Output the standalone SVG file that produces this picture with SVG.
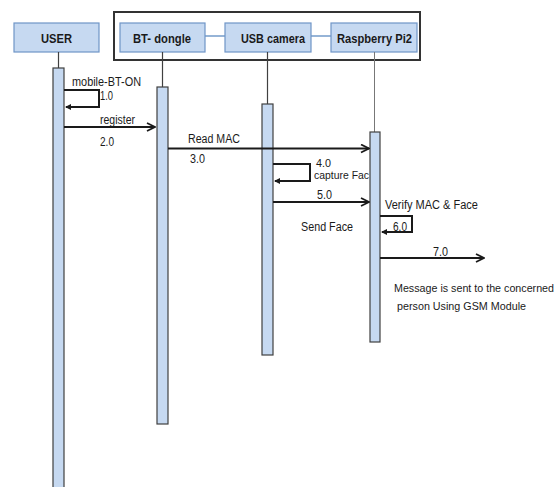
<svg xmlns="http://www.w3.org/2000/svg" width="560" height="487" viewBox="0 0 560 487">
<style>
.hdr{fill:#c6d9f1;stroke:#6f95c7;stroke-width:1.2}
.ht{font-family:"Liberation Sans",Arial,sans-serif;font-size:13px;font-weight:bold;fill:#1a1a1a}
.act{fill:#c6d9f1;stroke:#404040;stroke-width:1.2}
.life{stroke:#404040;stroke-width:1.2}
.msg{fill:none;stroke:#1a1a1a;stroke-width:2}
.lbl{font-family:"Liberation Sans",Arial,sans-serif;font-size:12px;fill:#1a1a1a}
.sm{font-size:11px}
</style>
<defs>
<marker id="open" viewBox="0 0 10 10" refX="9" refY="5" markerWidth="10" markerHeight="10" markerUnits="userSpaceOnUse" orient="auto">
<path d="M1,1 L9,5 L1,9" fill="none" stroke="#1a1a1a" stroke-width="1.8"/>
</marker>
<marker id="small" viewBox="0 0 6 6" refX="5" refY="3" markerWidth="6" markerHeight="6" markerUnits="userSpaceOnUse" orient="auto">
<path d="M0,0 L6,3 L0,6 Z" fill="#1a1a1a"/>
</marker>
</defs>
<rect x="114" y="12" width="306" height="48" fill="#fff" stroke="#333" stroke-width="2"/>
<g id="links">
<line x1="205" y1="36" x2="225" y2="36" stroke="#4f81bd" stroke-width="1.2"/>
<line x1="311" y1="36" x2="331" y2="36" stroke="#4f81bd" stroke-width="1.2"/>
</g>
<g id="user">
<rect class="hdr" x="14" y="23" width="85" height="29"/>
<text class="ht" x="56.5" y="43" text-anchor="middle" textLength="31" lengthAdjust="spacingAndGlyphs">USER</text>
<line class="life" x1="58.5" y1="52" x2="58.5" y2="68"/>
<rect class="act" x="53" y="68" width="11" height="425"/>
</g>
<g id="btdongle">
<rect class="hdr" x="120" y="23" width="85" height="29"/>
<text class="ht" x="162" y="43" text-anchor="middle" textLength="58" lengthAdjust="spacingAndGlyphs">BT- dongle</text>
<line class="life" x1="162.5" y1="52" x2="162.5" y2="87"/>
<rect class="act" x="157" y="87" width="11" height="337"/>
</g>
<g id="usbcamera">
<rect class="hdr" x="225" y="23" width="86" height="29"/>
<text class="ht" x="273" y="43" text-anchor="middle" textLength="64" lengthAdjust="spacingAndGlyphs">USB camera</text>
<line class="life" x1="267.5" y1="52" x2="267.5" y2="104"/>
<rect class="act" x="262" y="104" width="11" height="251"/>
</g>
<g id="raspberrypi2">
<rect class="hdr" x="331" y="23" width="86" height="29"/>
<text class="ht" x="374.5" y="43" text-anchor="middle" textLength="75" lengthAdjust="spacingAndGlyphs">Raspberry Pi2</text>
<line x1="374.5" y1="52" x2="374.5" y2="132" stroke="#777" stroke-width="1"/>
</g>
<g id="labels">
<text class="lbl" x="72" y="86" textLength="69" lengthAdjust="spacingAndGlyphs">mobile-BT-ON</text>
<text class="lbl" x="100" y="100" textLength="13" lengthAdjust="spacingAndGlyphs">1.0</text>
<text class="lbl" x="100" y="124" textLength="35" lengthAdjust="spacingAndGlyphs">register</text>
<text class="lbl" x="100" y="146" textLength="14" lengthAdjust="spacingAndGlyphs">2.0</text>
<text class="lbl" x="188" y="143" textLength="52" lengthAdjust="spacingAndGlyphs">Read MAC</text>
<text class="lbl" x="190" y="163" textLength="15" lengthAdjust="spacingAndGlyphs">3.0</text>
<text class="lbl sm" x="316" y="167" textLength="15" lengthAdjust="spacingAndGlyphs">4.0</text>
<text class="lbl sm" x="314" y="179" textLength="55" lengthAdjust="spacingAndGlyphs">capture Fac</text>
<text class="lbl" x="317" y="199" textLength="15" lengthAdjust="spacingAndGlyphs">5.0</text>
<text class="lbl" x="301" y="231" textLength="52" lengthAdjust="spacingAndGlyphs">Send Face</text>
<text class="lbl" x="385" y="209" textLength="93" lengthAdjust="spacingAndGlyphs">Verify MAC &amp; Face</text>
<text class="lbl" x="393" y="231" textLength="14" lengthAdjust="spacingAndGlyphs">6.0</text>
<text class="lbl" x="433" y="256" textLength="15" lengthAdjust="spacingAndGlyphs">7.0</text>
<text class="lbl sm" x="394" y="292" textLength="160" lengthAdjust="spacingAndGlyphs">Message is sent to the concerned</text>
<text class="lbl sm" x="397" y="310" textLength="129" lengthAdjust="spacingAndGlyphs">person Using GSM Module</text>
</g>
<g id="raspberrypi2-activation">
<rect class="act" x="370" y="132" width="10" height="210"/>
</g>
<g id="connectors">
<path class="msg" d="M64,90 H99 V107 H66" marker-end="url(#small)"/>
<path class="msg" d="M64,127 H155" marker-end="url(#open)"/>
<path class="msg" d="M168,148.5 H369" marker-end="url(#open)"/>
<path class="msg" d="M273,164 H310 V181 H275" marker-end="url(#small)"/>
<path class="msg" d="M273,202 H369" marker-end="url(#open)"/>
<path class="msg" d="M380,216 H412 V232 H382" marker-end="url(#small)"/>
<path class="msg" d="M380,258 H484" marker-end="url(#open)"/>
</g>
</svg>
